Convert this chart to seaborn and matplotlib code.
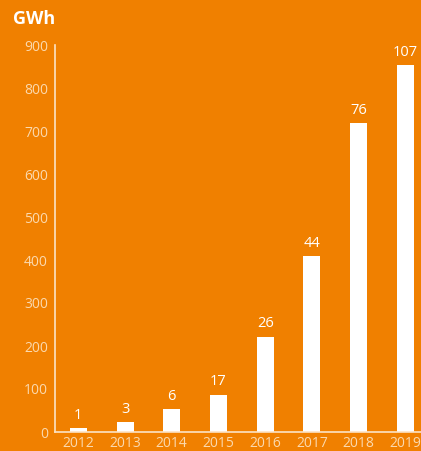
import matplotlib
matplotlib.use("Agg")
import matplotlib.pyplot as plt
import seaborn as sns
import pandas as pd

years = ["2012", "2013", "2014", "2015", "2016", "2017", "2018", "2019"]
gwh = [9, 23, 53, 86, 221, 409, 718, 853]
labels = ["1", "3", "6", "17", "26", "44", "76", "107"]
yticks = [0, 100, 200, 300, 400, 500, 600, 700, 800, 900]

BG = "#F08000"
TICK = "#FBD9AE"

sns.set_theme(style="white")
plt.rcParams['font.family'] = ['Open Sans', 'DejaVu Sans']

fig = plt.figure(figsize=(4.21, 4.51), dpi=100, facecolor=BG)
ax = fig.add_axes([55/421, (451-432)/451, 373.6/421, (432-45)/451])
ax.set_facecolor(BG)

df = pd.DataFrame({"year": years, "gwh": gwh})
sns.barplot(data=df, x="year", y="gwh", color="white", saturation=1,
            width=0.365, ax=ax, linewidth=0)

ax.set_xlim(-0.5, 7.5)
ax.set_ylim(0, 900)
ax.set_yticks(yticks)
ax.set_yticklabels([str(v) for v in yticks])
ax.tick_params(axis="both", length=0, colors=TICK, labelsize=10)
ax.tick_params(axis="y", pad=5)
ax.tick_params(axis="x", pad=3)
ax.set_xlabel("")
ax.set_ylabel("")
for s in ["top", "right"]:
    ax.spines[s].set_visible(False)
for s in ["left", "bottom"]:
    ax.spines[s].set_color("#FCE3C6")
    ax.spines[s].set_linewidth(1.2)

for i, (v, t) in enumerate(zip(gwh, labels)):
    ax.text(i, v + 13, t, ha="center", va="bottom", color="white", fontsize=10.5)

fig.text(13/421, 1 - 19/451, "GWh", color="white", fontsize=13,
         fontweight="bold", ha="left", va="center")

fig.savefig("out.png", dpi=100, facecolor=BG)
